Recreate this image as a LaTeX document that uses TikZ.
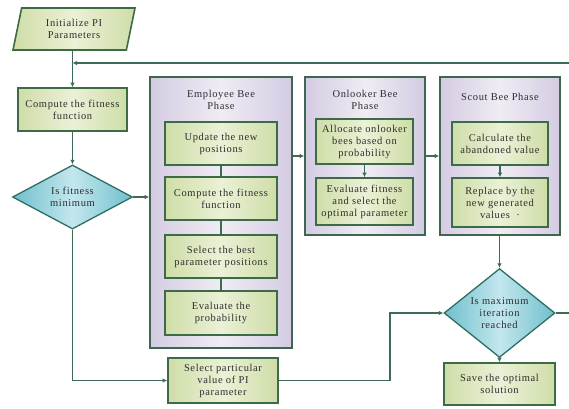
\documentclass[tikz,border=0pt]{standalone}
\usepackage{fontspec}
\setmainfont{Liberation Serif}[LetterSpace=6]
\usetikzlibrary{shapes.geometric,arrows.meta}
\definecolor{gedge}{HTML}{CFDDA8}
\definecolor{gmid}{HTML}{EAF1D6}
\definecolor{gborder}{HTML}{3E6B47}
\definecolor{pedge}{HTML}{D4CBE2}
\definecolor{pmid}{HTML}{F0ECF4}
\definecolor{pborder}{HTML}{3E6650}
\definecolor{cedge}{HTML}{6FBFCC}
\definecolor{cmid}{HTML}{C4E7EE}
\definecolor{cborder}{HTML}{2F6E62}
\definecolor{lnk}{HTML}{3E6B55}
\definecolor{txt}{HTML}{2E2E2E}
\tikzset{
  base/.style={font=\fontsize{10.5}{12}\selectfont, text=txt, align=center, inner sep=1pt},
  gbox/.style={base, rectangle, draw=gborder, line width=1.6pt, left color=gedge, right color=gedge, middle color=gmid},
  pbox/.style={rectangle, draw=pborder, line width=1.6pt, left color=pedge, right color=pedge, middle color=pmid},
  dbox/.style={base, diamond, draw=cborder, line width=1.3pt, left color=cedge, right color=cedge, middle color=cmid, inner sep=0pt},
  ttl/.style={base},
  lk/.style={draw=lnk, line width=1.5pt},
  ar/.style={lk, -{Latex[length=4.5pt,width=4.5pt]}}
}
\begin{document}
\begin{tikzpicture}[x=1pt,y=-1pt]
\useasboundingbox (0,0) rectangle (569,408);
% init
\node[gbox, trapezium, trapezium left angle=68, trapezium right angle=112, trapezium stretches body, minimum width=122, minimum height=42] (init) at (74,29) {Initialize PI\\Parameters};
\node[gbox, minimum width=109, minimum height=43] (comp) at (72.5,109.5) {Compute the fitness\\function};
\node[dbox, minimum width=120, minimum height=56] (d1) at (72.5,197) {Is fitness\\minimum};
% employee
\node[pbox, minimum width=142, minimum height=271] (emp) at (221,212.5) {};
\node[ttl] (empt) at (221,100) {Employee Bee\\Phase};
\node[gbox, minimum width=112, minimum height=43] (u1) at (221,143.5) {Update the new\\positions};
\node[gbox, minimum width=112, minimum height=43] (u2) at (221,198.5) {Compute the fitness\\function};
\node[gbox, minimum width=112, minimum height=43] (u3) at (221,256.5) {Select the best\\parameter positions};
\node[gbox, minimum width=112, minimum height=44] (u4) at (221,313) {Evaluate the\\probability};
% onlooker
\node[pbox, minimum width=120, minimum height=158] (onl) at (365,156) {};
\node[ttl] (onlt) at (365,100) {Onlooker Bee\\Phase};
\node[gbox, minimum width=97, minimum height=45] (o1) at (364.5,141.5) {Allocate onlooker\\bees based on\\probability};
\node[gbox, minimum width=97, minimum height=47] (o2) at (364.5,201.5) {Evaluate fitness\\and select the\\optimal parameter};
% scout
\node[pbox, minimum width=120, minimum height=158] (sc) at (500,156) {};
\node[ttl] (sct) at (500,97) {Scout Bee Phase};
\node[gbox, minimum width=96, minimum height=43] (s1) at (500,143.5) {Calculate the\\abandoned value};
\node[gbox, minimum width=96, minimum height=49] (s2) at (500,202.5) {Replace by the\\new generated\\values ~\textperiodcentered};
% bottom
\node[dbox, minimum width=111, minimum height=70] (d2) at (499.5,313) {Is maximum\\iteration\\reached};
\node[gbox, minimum width=111, minimum height=42] (save) at (499.5,384) {Save the optimal\\solution};
\node[gbox, minimum width=110, minimum height=45] (sel) at (223,380.5) {Select particular\\value of PI\\parameter};
\coordinate (fb) at (72.5,63);
\coordinate (bend) at (390,380.5);
\coordinate (far) at (585,313);
% connectors
\draw[ar] (comp.north |- init.south) -- (comp.north);
\draw[ar] (comp.south) -- (d1.north);
\draw[ar] (d1.east) -- (d1.east -| emp.west);
\draw[ar] (d1.south) |- (sel.west);
\draw[ar] (sel.east) -- (bend) |- (d2.west);
\draw[lk] (u1.south) -- (u2.north);
\draw[lk] (u2.south) -- (u3.north);
\draw[lk] (u3.south) -- (u4.north);
\draw[ar] (onl.west -| emp.east) -- (onl.west);
\draw[ar] (onl.east) -- (sc.west);
\draw[ar] (o1.south) -- (o2.north);
\draw[ar] (s1.south) -- (s2.north);
\draw[ar] (sc.south -| d2.north) -- (d2.north);
\draw[ar] (d2.south) -- (save.north);
\draw[ar] (d2.east) -- (far) |- (fb);
\end{tikzpicture}
\end{document}
